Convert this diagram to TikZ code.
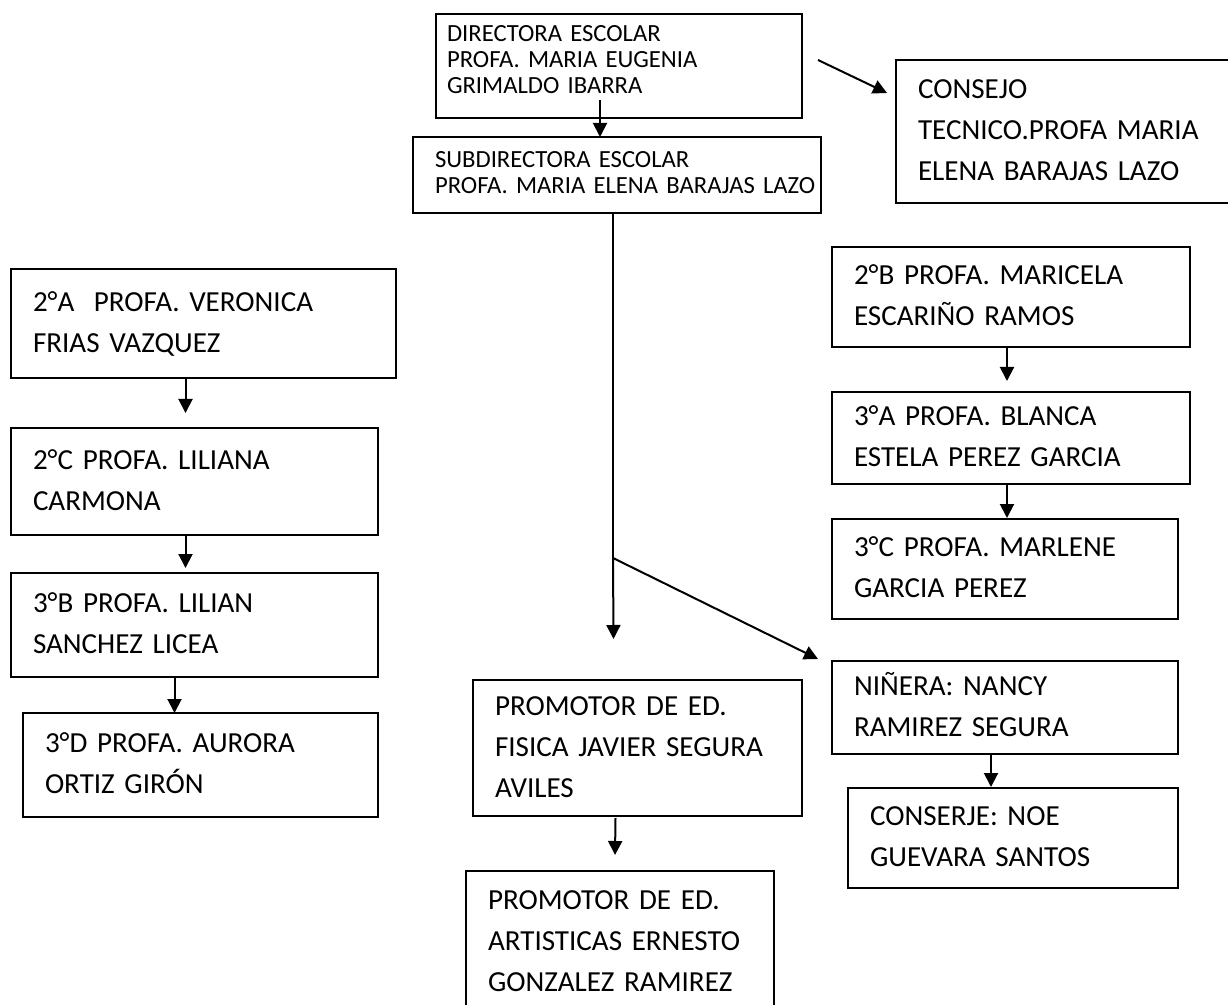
\documentclass[tikz,border=0pt]{standalone}
\usepackage{fontspec}
\setmainfont{Carlito}
\frenchspacing
\usetikzlibrary{calc,positioning}
\usetikzlibrary{arrows.meta}

\begin{document}
\begin{tikzpicture}[x=0.75pt,y=0.75pt,yscale=-1,xscale=1,
  cargo/.style={draw, line width=1.5pt, outer sep=0pt, inner xsep=16.5pt, inner ysep=0pt, anchor=north west, align=left,
    font=\fontsize{21.8pt}{30.75pt}\selectfont, execute at begin node=\strut, execute at end node=\strut},
  cargochico/.style={cargo, font=\fontsize{18.5pt}{19.5pt}\selectfont},
  flecha/.style={line width=1.5pt, -{Triangle[length=10.5pt,width=10.5pt]}}]
\useasboundingbox (0,0) rectangle (1228,1005);
\clip (0,0) rectangle (1228,1005);

% Direccion
\node [cargochico, inner xsep=8.25pt, text width=258pt, minimum height=78pt,
  execute at end node={\strut\par\vspace*{5.7pt}\hrule height 0pt}] (dir) at (436,14) {DIRECTORA ESCOLAR\\PROFA. MARIA EUGENIA\\GRIMALDO IBARRA};
\node [cargochico, text width=273pt, minimum height=57pt] (sub) at (413,137) {SUBDIRECTORA ESCOLAR\\\mbox{PROFA. MARIA ELENA BARAJAS LAZO}};
\node [cargo, text width=219pt, minimum height=107.25pt] (cons) at (896,60) {CONSEJO\\TECNICO.PROFA MARIA\\ELENA BARAJAS LAZO};

% Columna izquierda
\node [cargo, text width=255.75pt, minimum height=81.75pt] (a2) at (11,269) {2°A\ \ PROFA. VERONICA\\FRIAS VAZQUEZ};
\node [cargo, text width=242.25pt, minimum height=80.25pt] (c2) at (11,428) {2°C PROFA. LILIANA\\CARMONA};
\node [cargo, text width=242.25pt, minimum height=78pt] (b3) at (11,573) {3°B PROFA. LILIAN\\SANCHEZ LICEA};
\node [cargo, text width=233.25pt, minimum height=78pt] (d3) at (23,713) {3°D PROFA. AURORA\\ORTIZ GIRÓN};

% Columna derecha
\node [cargo, text width=235.5pt, minimum height=75pt] (b2) at (832,247) {2°B PROFA. MARICELA\\ESCARIÑO RAMOS};
\node [cargo, text width=235.5pt, minimum height=69pt] (a3) at (832,392) {3°A PROFA. BLANCA\\ESTELA PEREZ GARCIA};
\node [cargo, text width=226.5pt, minimum height=75pt] (c3) at (832,519) {3°C PROFA. MARLENE\\GARCIA PEREZ};
\node [cargo, text width=226.5pt, minimum height=69.75pt] (nin) at (832,661) {NIÑERA: NANCY\\RAMIREZ SEGURA};
\node [cargo, text width=214.5pt, minimum height=75pt] (csj) at (848,788) {CONSERJE: NOE\\GUEVARA SANTOS};

% Promotores
\node [cargo, text width=213.75pt, minimum height=102pt] (ped) at (473,680) {PROMOTOR DE ED.\\FISICA JAVIER SEGURA\\AVILES};
\node [cargo, text width=198pt, minimum height=106.5pt] (art) at (466,871) {PROMOTOR DE ED.\\ARTISTICAS ERNESTO\\GONZALEZ RAMIREZ};

% Flechas
\draw [flecha] ($(dir.south)+(-19,-18)$) -- ($(sub.north)+(-17,0)$);
\draw [flecha] ($(dir.north east)+(16,46)$) -- ($(cons.north west)+(-9,33)$);
\coordinate (ramal) at ($(sub.south)+(-4,345)$);
\draw [line width=1.5pt] ($(sub.south)+(-4,0)$) -- (ramal);
\draw [flecha] (ramal) -- ($(ped.north)+(-24,-41)$);
\draw [flecha] (ramal) -- ($(nin.north west)+(-14,-2)$);
\draw [flecha] ($(a2.south)+(-18,0)$) -- ($(c2.north)+(-9,-15)$);
\draw [flecha] ($(c2.south)+(-9,0)$) -- ($(b3.north)+(-9,-5)$);
\draw [flecha] ($(b3.south)+(-20,0)$) -- ($(d3.north)+(-26,0)$);
\draw [flecha] ($(b2.south)+(-4,0)$) -- ($(a3.north)+(-4,-11)$);
\draw [flecha] ($(a3.south)+(-4,0)$) -- ($(c3.north)+(2,-1)$);
\draw [flecha] ($(nin.south)+(-14,0)$) -- ($(csj.north)+(-22,-1)$);
\draw [flecha] ($(ped.south)+(-22,2)$) -- ($(art.north)+(-5,-16)$);

\end{tikzpicture}
\end{document}
